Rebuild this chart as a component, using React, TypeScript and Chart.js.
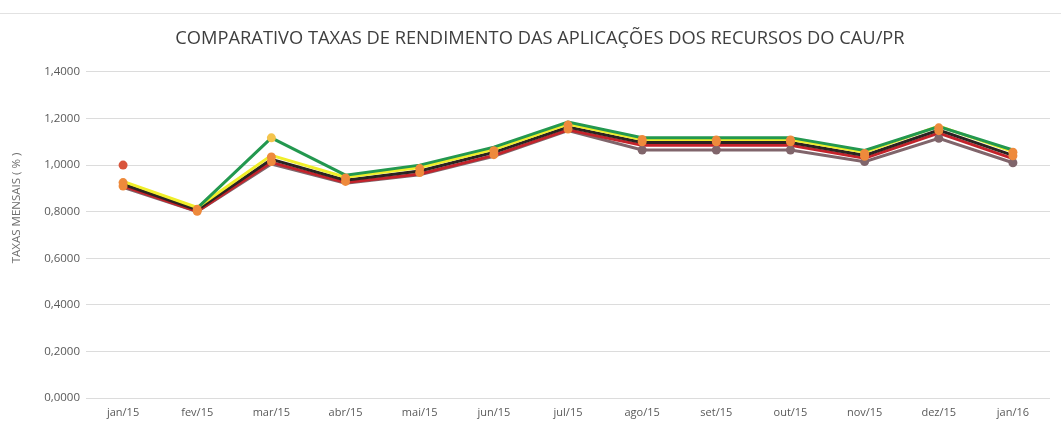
import React, { useEffect, useRef } from "react";
import { Chart, registerables } from "chart.js";

Chart.register(...registerables);

const categories = [
  "jan/15", "fev/15", "mar/15", "abr/15", "mai/15", "jun/15", "jul/15",
  "ago/15", "set/15", "out/15", "nov/15", "dez/15", "jan/16",
];

const greenSeries = [null, 0.815, 1.117, 0.957, 1.0, 1.077, 1.185, 1.118, 1.118, 1.118, 1.063, 1.165, 1.065];
const yellowSeries = [0.93, 0.818, 1.042, 0.948, 0.99, 1.068, 1.176, 1.11, 1.11, 1.11, 1.055, 1.168, 1.058];
const blackSeries = [0.918, 0.808, 1.025, 0.935, 0.975, 1.055, 1.163, 1.097, 1.097, 1.097, 1.042, 1.15, 1.042];
const redSeries = [0.91, 0.802, 1.012, 0.925, 0.962, 1.042, 1.152, 1.085, 1.085, 1.085, 1.03, 1.138, 1.028];
const mauveSeries = [0.905, 0.8, 1.005, 0.922, 0.958, 1.038, 1.148, 1.065, 1.065, 1.065, 1.015, 1.115, 1.01];

const orangeUpperMarkers = [0.925, 0.81, 1.035, 0.945, 0.985, 1.062, 1.172, 1.11, 1.108, 1.108, 1.05, 1.16, 1.055];
const orangeLowerMarkers = [0.91, 0.802, 1.015, 0.93, 0.968, 1.045, 1.155, 1.1, 1.1, 1.1, 1.038, 1.148, 1.04];
const mauveMarkers = [null, null, null, null, null, null, null, 1.065, 1.065, 1.065, 1.015, 1.115, 1.01];
const goldMarkers = [null, null, 1.117, null, null, null, null, null, null, null, null, null, null];
const redDot = [1.0, null, null, null, null, null, null, null, null, null, null, null, null];

const yTickValues = [0, 0.2, 0.4, 0.6, 0.8, 1.0, 1.2, 1.4];

const TITLE = "COMPARATIVO TAXAS DE RENDIMENTO DAS APLICAÇÕES DOS RECURSOS DO CAU/PR";
const Y_TITLE = "TAXAS MENSAIS ( % )";
const FONT = "'Open Sans', 'Noto Sans', sans-serif";

const yTitlePlugin = {
  id: "yTitlePlugin",
  afterDraw(chart: any) {
    const ctx = chart.ctx;
    ctx.save();
    ctx.translate(17, 208);
    ctx.rotate(-Math.PI / 2);
    ctx.font = `11.5px ${FONT}`;
    ctx.fillStyle = "#6e6e6e";
    ctx.textAlign = "center";
    ctx.textBaseline = "middle";
    ctx.fillText(Y_TITLE, 0, 0);
    ctx.restore();
  },
};

export default function App() {
  const ref = useRef<HTMLCanvasElement>(null);

  useEffect(() => {
    const lineDs = (label: string, data: (number | null)[], color: string, order: number) => ({
      type: "line" as const,
      label,
      data,
      borderColor: color,
      backgroundColor: color,
      borderWidth: 3,
      pointRadius: 0,
      tension: 0,
      order,
    });
    const markerDs = (label: string, data: (number | null)[], color: string, r: number, order: number) => ({
      type: "line" as const,
      label,
      data,
      showLine: false,
      borderColor: color,
      backgroundColor: color,
      pointBackgroundColor: color,
      pointBorderColor: color,
      pointRadius: r,
      pointBorderWidth: 0,
      order,
    });

    const chart = new Chart(ref.current!, {
      type: "line",
      data: {
        labels: categories,
        datasets: [
          markerDs("ouro", goldMarkers, "#f4c44c", 4.5, 0),
          markerDs("ponto", redDot, "#d9553c", 4.5, 0),
          markerDs("laranja1", orangeUpperMarkers, "#ee8a3c", 4.5, 1),
          markerDs("laranja2", orangeLowerMarkers, "#ee8a3c", 4.5, 1),
          markerDs("cinza", mauveMarkers, "#80656b", 4.5, 2),
          lineDs("verde", greenSeries, "#23984f", 3),
          lineDs("amarelo", yellowSeries, "#f0ee2a", 4),
          lineDs("preto", blackSeries, "#2a2422", 5),
          lineDs("vermelho", redSeries, "#c4232b", 6),
          lineDs("malva", mauveSeries, "#80656b", 7),
        ],
      },
      plugins: [yTitlePlugin],
      options: {
        responsive: false,
        animation: false,
        layout: { padding: { left: 30, right: 11, top: 0, bottom: 0 } },
        plugins: {
          legend: { display: false },
          tooltip: { enabled: false },
          title: {
            display: true,
            text: TITLE,
            color: "#3f3f3f",
            font: { family: FONT, size: 18.3, weight: "normal" },
            padding: { top: 28, bottom: 22 },
          },
        },
        scales: {
          x: {
            offset: true,
            grid: { display: false, drawTicks: false, offset: true },
            border: { display: false },
            ticks: {
              color: "#595959",
              font: { family: FONT, size: 11 },
              padding: 8,
              maxRotation: 0,
            },
            afterFit: (s: any) => {
              s.height = 25;
            },
          },
          y: {
            min: 0,
            max: 1.4,
            afterBuildTicks: (s: any) => {
              s.ticks = yTickValues.map((v) => ({ value: v }));
            },
            grid: { color: "#dcdcdc", lineWidth: 1, drawTicks: false },
            border: { display: false },
            ticks: {
              color: "#595959",
              font: { family: FONT, size: 11.5 },
              padding: 6,
              callback: (v: any) => Number(v).toFixed(4).replace(".", ","),
            },
            afterFit: (s: any) => {
              s.width = 56;
            },
          },
        },
      },
    });
    return () => chart.destroy();
  }, []);

  return (
    <div style={{ position: "absolute", left: 0, top: 0, width: 1061, height: 423, background: "#fff" }}>
      <canvas ref={ref} width={1061} height={423} style={{ display: "block" }} />
      <div style={{ position: "absolute", left: 0, top: 13, width: 1061, height: 0, borderTop: "1px solid #e2e2e2" }} />
    </div>
  );
}
